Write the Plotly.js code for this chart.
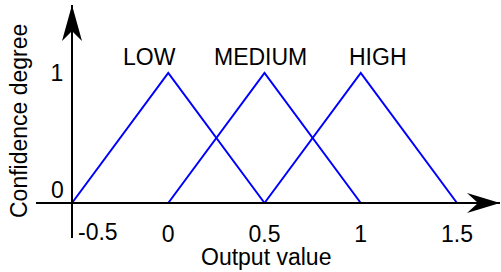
<!DOCTYPE html>
<html>
<head>
<meta charset="utf-8">
<script src="https://cdn.plot.ly/plotly-3.0.1.min.js"></script>
<style>html,body{margin:0;padding:0;background:#fff;}#chart{width:501px;height:272px;}</style>
</head>
<body>
<div id="chart"></div>
<script>
// Membership functions (breakpoints and degrees)
const setNames = ['LOW', 'MEDIUM', 'HIGH'];
const lowX = [-0.5, 0, 0.5];
const lowY = [0, 1, 0];
const mediumX = [0, 0.5, 1];
const mediumY = [0, 1, 0];
const highX = [0.5, 1, 1.5];
const highY = [0, 1, 0];
const xTickVals = [0, 0.5, 1, 1.5];
const xTickText = ['0', '0.5', '1', '1.5'];
const originXLabel = '-0.5';
const yTickVals = [1];
const yTickText = ['1'];
const originYLabel = '0';
const xTitle = 'Output value';
const yTitle = 'Confidence degree';

const FONT = 'Liberation Sans, Arial, Helvetica, sans-serif';
const FS = 23;
const blue = '#0000ff';

function tri(x, y, name) {
  return {x: x, y: y, name: name, type: 'scatter', mode: 'lines',
    line: {color: blue, width: 2}, hoverinfo: 'skip', showlegend: false, cliponaxis: false};
}

const traces = [tri(lowX, lowY, setNames[0]), tri(mediumX, mediumY, setNames[1]), tri(highX, highY, setNames[2])];

const W = 501, H = 272;
// pixel geometry
const x0px = 72, xUnit = 192.5; // x=-0.5 at 72px
const y0px = 203, yUnit = 130;  // y=0 at 203px
const pxLeft = 36, pxRight = 500, pxTop = 5, pxBottom = 238;
const xr = [-0.5 - (x0px - pxLeft) / xUnit, -0.5 + (pxRight - x0px) / xUnit];
const yr = [-(pxBottom - y0px) / yUnit, (y0px - pxTop) / yUnit];

const layout = {
  width: W, height: H,
  margin: {l: 0, r: 0, t: 0, b: 0, pad: 0},
  paper_bgcolor: '#fff', plot_bgcolor: '#fff',
  font: {family: FONT, size: FS, color: '#000'},
  showlegend: false,
  xaxis: {
    domain: [pxLeft / W, pxRight / W], range: xr, anchor: 'free', position: (H - y0px) / H,
    showgrid: false, zeroline: false, showline: true, linecolor: '#000', linewidth: 2,
    tickmode: 'array', tickvals: xTickVals, ticktext: xTickText, ticks: '',
    ticklabelstandoff: 10, automargin: false, fixedrange: true,
    tickfont: {family: FONT, size: FS, color: '#000'}
  },
  yaxis: {
    domain: [(H - pxBottom) / H, (H - pxTop) / H], range: yr, anchor: 'free', position: x0px / W,
    showgrid: false, zeroline: false, showline: true, linecolor: '#000', linewidth: 2,
    tickmode: 'array', tickvals: yTickVals, ticktext: yTickText, ticks: '',
    ticklabelstandoff: 3, automargin: false, fixedrange: true,
    tickfont: {family: FONT, size: FS, color: '#000'}
  },
  shapes: [
    {type: 'path', xref: 'x domain', yref: 'y', xsizemode: 'pixel', ysizemode: 'pixel',
      xanchor: 1, yanchor: 0, path: 'M0,0 L-33,10 L-22,0 L-33,-10 Z',
      fillcolor: '#000', line: {width: 0}},
    {type: 'path', xref: 'x', yref: 'y domain', xsizemode: 'pixel', ysizemode: 'pixel',
      xanchor: -0.5, yanchor: 1, path: 'M0,0 L10,-36 L0,-26 L-10,-36 Z',
      fillcolor: '#000', line: {width: 0}}
  ],
  annotations: [
    {text: setNames[0], xref: 'x', yref: 'y', x: -0.095, y: 1.123, showarrow: false, xanchor: 'center', yanchor: 'middle'},
    {text: setNames[1], xref: 'x', yref: 'y', x: 0.477, y: 1.123, showarrow: false, xanchor: 'center', yanchor: 'middle'},
    {text: setNames[2], xref: 'x', yref: 'y', x: 1.09, y: 1.123, showarrow: false, xanchor: 'center', yanchor: 'middle'},
    {text: originYLabel, xref: 'x', yref: 'y', x: -0.5, y: 0, showarrow: false, xanchor: 'right', yanchor: 'middle', xshift: -6, yshift: 13},
    {text: originXLabel, xref: 'x', yref: 'y', x: -0.5, y: 0, showarrow: false, xanchor: 'left', yanchor: 'middle', xshift: 4, yshift: -29},
    {text: xTitle, xref: 'paper', yref: 'paper', x: 266 / W, y: 1 - 257 / H, showarrow: false, xanchor: 'center', yanchor: 'middle'},
    {text: yTitle, xref: 'paper', yref: 'paper', x: 19 / W, y: 1 - 121 / H, showarrow: false, xanchor: 'center', yanchor: 'middle', textangle: -90}
  ]
};

Plotly.newPlot('chart', traces, layout, {staticPlot: true, displayModeBar: false});
</script>
</body>
</html>
